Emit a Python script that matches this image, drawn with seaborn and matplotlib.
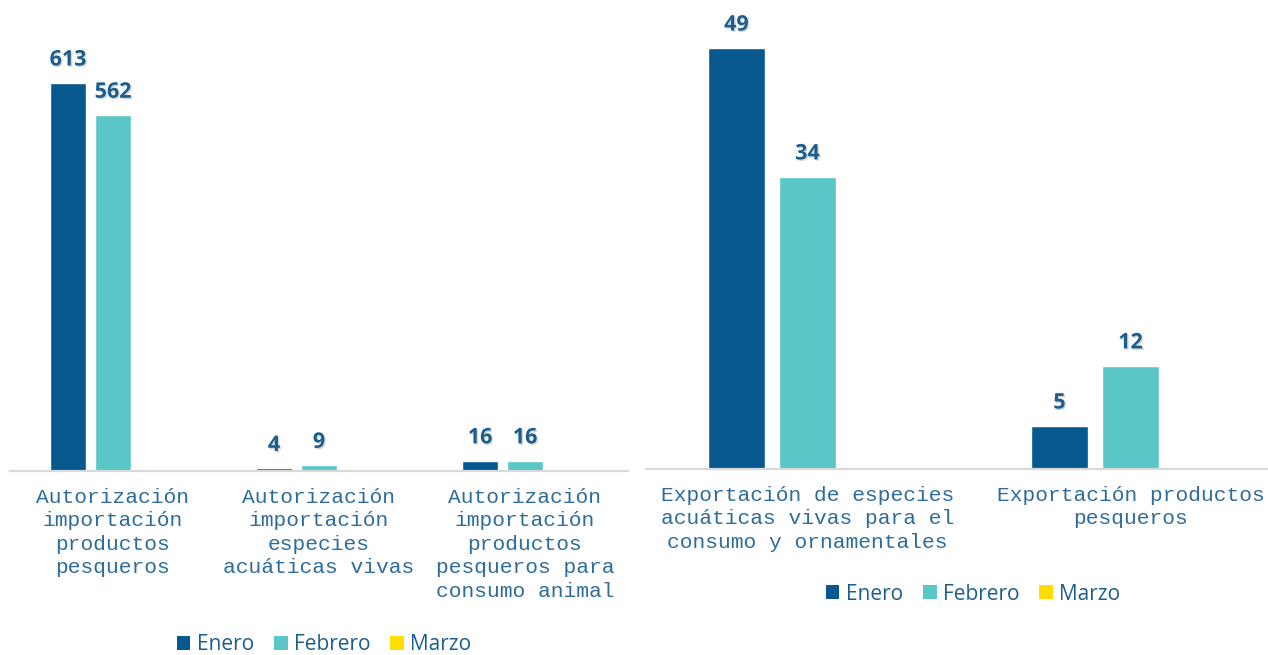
#!/usr/bin/env python3
"""
Autorizaciones de importación / exportación - barras agrupadas por mes
"""

import matplotlib
matplotlib.use("Agg")
import matplotlib.pyplot as plt
import matplotlib.patheffects as pe
from matplotlib.patches import Patch
import seaborn as sns
import pandas as pd
import numpy as np

sns.set_theme(style="white")
plt.rcParams['font.family'] = ['Open Sans', 'DejaVu Sans']

# Data
months = ['Enero', 'Febrero', 'Marzo']
colors = ['#07588E', '#5BC6C8', '#FFDD00']

import_cats = [
    'Autorización\nimportación\nproductos\npesqueros',
    'Autorización\nimportación\nespecies\nacuáticas vivas',
    'Autorización\nimportación\nproductos\npesqueros para\nconsumo animal',
]
import_enero = [613, 4, 16]
import_febrero = [562, 9, 16]
import_marzo = [np.nan, np.nan, np.nan]

export_cats = [
    'Exportación de especies\nacuáticas vivas para el\nconsumo y ornamentales',
    'Exportación productos\npesqueros',
]
export_enero = [49, 5]
export_febrero = [34, 12]
export_marzo = [np.nan, np.nan]

LABEL_BLUE = '#1B5E8E'
TICK_BLUE = '#2D6C9B'
W, H = 1268, 655


def make_df(cats, ene, feb, mar):
    rows = []
    for c, a, b, m in zip(cats, ene, feb, mar):
        rows.append({'cat': c, 'mes': 'Enero', 'val': a})
        rows.append({'cat': c, 'mes': 'Febrero', 'val': b})
        rows.append({'cat': c, 'mes': 'Marzo', 'val': m})
    return pd.DataFrame(rows)


def draw_panel(ax, df, cats, ymax, width, gap):
    sns.barplot(data=df, x='cat', y='val', hue='mes', hue_order=months,
                order=cats, palette=colors, saturation=1, width=width, gap=gap,
                errorbar=None, legend=False, ax=ax)
    ax.set_xlim(-0.5, len(cats) - 0.5)
    ax.set_ylim(0, ymax)
    ax.set_xlabel('')
    ax.set_ylabel('')
    ax.set_yticks([])
    for s in ['left', 'right', 'top']:
        ax.spines[s].set_visible(False)
    ax.spines['bottom'].set_color('#D9D9D9')
    ax.spines['bottom'].set_linewidth(1.6)
    ax.tick_params(axis='x', length=0, pad=12)
    for lab in ax.get_xticklabels():
        lab.set_family(['Liberation Mono', 'DejaVu Sans Mono'])
        lab.set_fontsize(15.3)
        lab.set_color(TICK_BLUE)
        lab.set_linespacing(1.3)
        lab.set_multialignment('center')
    shadow = [pe.withSimplePatchShadow(offset=(1, -1), shadow_rgbFace='#888888', alpha=0.35)]
    for cont in ax.containers:
        labels = ['' if np.isnan(v) else f'{v:.0f}' for v in cont.datavalues]
        texts = ax.bar_label(cont, labels=labels, padding=9, fontsize=15.5,
                             fontweight='bold', color=LABEL_BLUE)
        for t in texts:
            t.set_path_effects(shadow)


fig = plt.figure(figsize=(W / 100, H / 100), dpi=100)

# left panel
ax1 = fig.add_axes([10 / W, 184 / H, 618 / W, 441 / H])
draw_panel(ax1, make_df(import_cats, import_enero, import_febrero, import_marzo),
           import_cats, 441 / 0.633, width=0.655, gap=0.22)

# right panel
ax2 = fig.add_axes([646 / W, 186 / H, 646 / W, 459 / H])
draw_panel(ax2, make_df(export_cats, export_enero, export_febrero, export_marzo),
           export_cats, 459 / 8.59, width=0.66, gap=0.21)

handles = [Patch(facecolor=c, edgecolor='none', label=m) for m, c in zip(months, colors)]
for cx, cy in [(324, 645), (973, 594)]:
    fig.legend(handles=handles, loc='center', bbox_to_anchor=(cx / W, 1 - cy / H),
               ncol=3, frameon=False, fontsize=15, labelcolor=LABEL_BLUE,
               handlelength=0.67, handleheight=0.67, handletextpad=0.3,
               columnspacing=0.95, borderpad=0, borderaxespad=0)

fig.savefig('out.png', dpi=100)
print("Saved: out.png")
